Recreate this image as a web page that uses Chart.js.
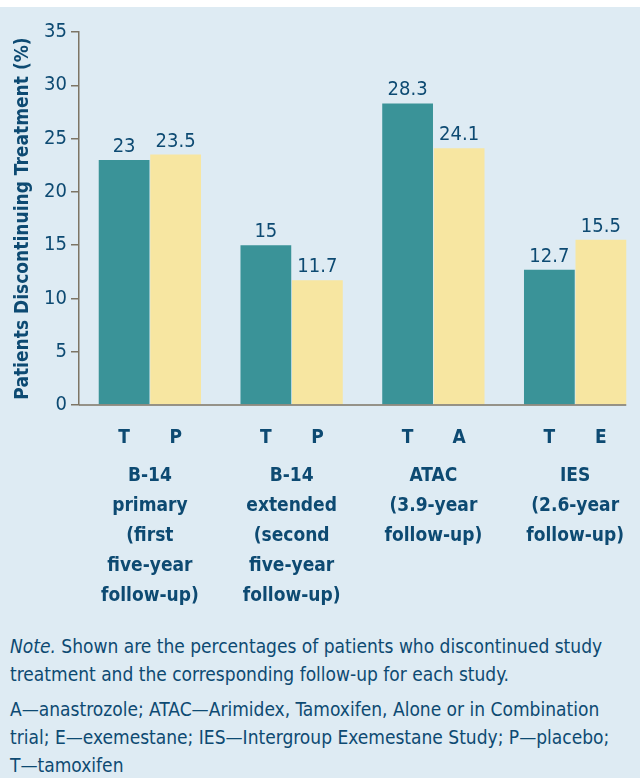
<!DOCTYPE html>
<html>
<head>
<meta charset="utf-8">
<script src="https://cdn.jsdelivr.net/npm/chart.js@4.4.1/dist/chart.umd.min.js"></script>
<style>
  body { margin: 0; background: #ffffff; overflow: hidden; }
  .panel {
    margin-top: 7px;
    width: 640px;
    height: 771px;
    background: #deebf3;
    position: relative;
    overflow: hidden;
  }
  .chart-box { width: 646px; height: 618px; position: relative; }
  .note {
    font-family: "DejaVu Sans Condensed", "Roboto", sans-serif;
    color: #0d4a72;
    font-size: 19px;
    line-height: 28px;
    padding: 0 10px;
    margin-top: 7px;
  }
  .note p { margin: 0 0 7px 0; }
  .nw { white-space: nowrap; }
</style>
</head>
<body>
<div class="panel">
  <div class="chart-box"><canvas id="trialChart"></canvas></div>
  <div class="note">
    <p><i>Note.</i> Shown are the percentages of patients who discontinued study treatment and the corresponding follow-up for each study.</p>
    <p>A—anastrozole; ATAC—Arimidex, Tamoxifen, Alone or in Combination trial; E—exemestane; IES—Intergroup Exemestane Study; P—placebo; <span class="nw">T—tamoxifen</span></p>
  </div>
</div>
<script>
// study groups (multi-line labels under the axis)
const studyLabels = [
  ['B-14', 'primary', '(first', 'five-year', 'follow-up)'],
  ['B-14', 'extended', '(second', 'five-year', 'follow-up)'],
  ['ATAC', '(3.9-year', 'follow-up)'],
  ['IES', '(2.6-year', 'follow-up)']
];
const tamoxifenLetters = ['T', 'T', 'T', 'T'];
const comparatorLetters = ['P', 'P', 'A', 'E'];
const tamoxifenValues = [23, 15, 28.3, 12.7];
const comparatorValues = [23.5, 11.7, 24.1, 15.5];
const yMax = 35;
const yStep = 5;

const FONT = '"DejaVu Sans Condensed", "Roboto", sans-serif';
const NAVY = '#0d4a72';
const AXIS = '#7d7565';

// value above each bar, treatment letter under each bar, x axis line up to last bar
const barLabels = {
  id: 'barLabels',
  afterDatasetsDraw(chart) {
    const ctx = chart.ctx;
    const letters = [tamoxifenLetters, comparatorLetters];
    const xScale = chart.scales.x;
    const axisY = xScale.top;
    ctx.save();
    ctx.fillStyle = NAVY;
    ctx.textAlign = 'center';
    let lastRight = xScale.left;
    chart.data.datasets.forEach((ds, di) => {
      const meta = chart.getDatasetMeta(di);
      meta.data.forEach((bar, i) => {
        lastRight = Math.max(lastRight, bar.x + bar.width / 2);
        ctx.font = '20px ' + FONT;
        ctx.textBaseline = 'alphabetic';
        ctx.fillText(String(ds.data[i]), bar.x, bar.y - 8);
        ctx.font = 'bold 19px ' + FONT;
        ctx.textBaseline = 'middle';
        ctx.fillText(letters[di][i], bar.x, axisY + 33);
      });
    });
    ctx.strokeStyle = AXIS;
    ctx.lineWidth = 1.5;
    ctx.beginPath();
    ctx.moveTo(xScale.left, axisY);
    ctx.lineTo(lastRight, axisY);
    ctx.stroke();
    ctx.restore();
  }
};

new Chart(document.getElementById('trialChart'), {
  type: 'bar',
  data: {
    labels: studyLabels,
    datasets: [
      {
        label: 'Tamoxifen',
        data: tamoxifenValues,
        backgroundColor: '#3a9398',
        categoryPercentage: 0.727,
        barPercentage: 0.985
      },
      {
        label: 'Comparator',
        data: comparatorValues,
        backgroundColor: '#f7e6a1',
        categoryPercentage: 0.727,
        barPercentage: 0.985
      }
    ]
  },
  options: {
    responsive: true,
    maintainAspectRatio: false,
    animation: false,
    layout: { padding: { top: 25, left: 0, right: 0, bottom: 0 } },
    plugins: {
      legend: { display: false },
      tooltip: { enabled: false }
    },
    scales: {
      x: {
        grid: { display: false },
        border: { display: false },
        ticks: {
          color: NAVY,
          font: { family: FONT, size: 19, weight: 'bold', lineHeight: 1.58 },
          padding: 48,
          maxRotation: 0,
          autoSkip: false
        },
        afterFit(scale) {
          scale.height = 220;
          scale.paddingLeft = 0;
          scale.paddingRight = 0;
        }
      },
      y: {
        min: 0,
        max: yMax,
        grid: {
          drawOnChartArea: false,
          drawTicks: true,
          tickLength: 8,
          color: AXIS,
          lineWidth: 1.5
        },
        border: { display: true, color: AXIS, width: 1.5 },
        ticks: {
          stepSize: yStep,
          color: NAVY,
          font: { family: FONT, size: 20 },
          padding: 4
        },
        title: {
          display: true,
          text: 'Patients Discontinuing Treatment (%)',
          color: NAVY,
          font: { family: FONT, size: 19, weight: 'bold' },
          padding: { top: 12, bottom: 0 }
        },
        afterFit(scale) {
          scale.width = 79;
        }
      }
    }
  },
  plugins: [barLabels]
});
</script>
</body>
</html>
